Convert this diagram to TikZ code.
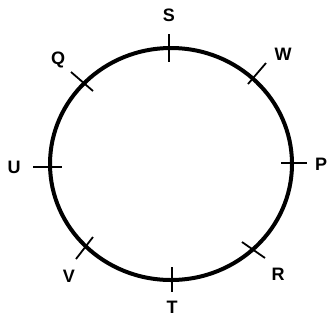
\documentclass[tikz,border=0pt]{standalone}
\usepackage{fontspec}
\setmainfont{Liberation Sans}
\begin{document}
\begin{tikzpicture}[x=1pt,y=-1pt,
  lbl/.style={font=\fontsize{18}{18}\selectfont\bfseries, inner sep=0pt},
  tick/.style={line width=1.8pt},
  ring/.style={line width=4pt}]
\useasboundingbox (0,0) rectangle (332,325);
\draw[ring] (171,164) ellipse [x radius=121, y radius=116];
% tick ends
\coordinate (s1) at (169,34); \coordinate (s2) at (169,62);
\coordinate (t1) at (172,267); \coordinate (t2) at (172,292);
\coordinate (u1) at (33,167); \coordinate (u2) at (62,167);
\coordinate (p1) at (281,163); \coordinate (p2) at (307,163);
\coordinate (q1) at (71,72); \coordinate (q2) at (93,91);
\coordinate (w1) at (266,63); \coordinate (w2) at (248,84);
\coordinate (v1) at (93,237); \coordinate (v2) at (76,259);
\coordinate (r1) at (242,242); \coordinate (r2) at (265,258);
\foreach \k in {s,t,u,p,q,w,v,r} \draw[tick] (\k1) -- (\k2);
% labels
\node[lbl] (S) at (169,15) {S};
\node[lbl] (W) at (283,54) {W};
\node[lbl] (Q) at (58,60) {Q};
\node[lbl] (U) at (14,167) {U};
\node[lbl] (P) at (321,164) {P};
\node[lbl] (V) at (69,276) {V};
\node[lbl] (R) at (278,274) {R};
\node[lbl] (T) at (172,307) {T};
\end{tikzpicture}
\end{document}
